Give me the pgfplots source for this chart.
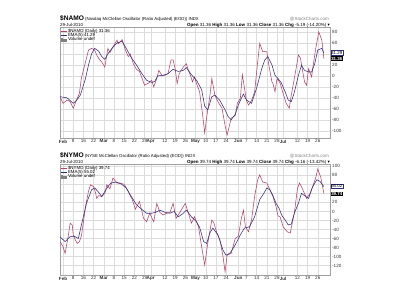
\documentclass[border=0pt]{standalone}
\usepackage{fontspec}
\setmainfont{Liberation Sans}
\newfontfamily\djv{DejaVu Sans}
\usepackage{pgfplots}
\pgfplotsset{compat=1.18}
\definecolor{osc}{HTML}{B8406A}
\definecolor{ema}{HTML}{2E2E78}
\definecolor{gridc}{HTML}{DCDCDC}
\definecolor{framec}{HTML}{A0A0A0}
\newcommand\fs[1]{\fontsize{#1}{#1}\selectfont}
\pgfplotsset{
  chart/.style={
    scale only axis, width=270pt, height=111pt,
    xmin=-1.5, xmax=131,
    axis line style={framec, line width=0.4pt},
    grid=major, major grid style={gridc, line width=0.3pt},
    xtick={0,5,10,15,20,25,30,35,40,43,50,55,60,65,70,75,80,86,90,95,100,105,108,115,120,125},
    xticklabels={\textbf{Feb},8,16,22,\textbf{Mar},8,15,22,29,\textbf{Apr},12,19,26,\textbf{May},10,17,24,\textbf{Jun},7,14,21,28,\textbf{Jul},12,19,26},
    major tick length=0pt,
    yticklabel pos=right,
    tick label style={font=\fs{4.6}, text=black!80},
    xticklabel style={inner sep=1pt},
    yticklabel style={inner sep=2pt},
    clip=true,
    legend cell align=left,
    legend style={at={(rel axis cs:0,1)}, anchor=north west, draw=none, fill=none,
      font=\fs{4.4}, inner sep=0.5pt, row sep=-1.6pt, nodes={inner sep=0.6pt}},
    legend image code/.code={\draw[##1,line width=0.7pt] (0pt,0pt) -- (6pt,0pt);},
  }
}
\begin{document}
\begin{tikzpicture}[x=1pt,y=1pt]
\useasboundingbox (0,0) rectangle (400,300);
% ---------------- top chart ----------------
\begin{axis}[chart, at={(60pt,161.5pt)}, anchor=south west,
  ymin=-114, ymax=88, ytick={-100,-80,...,80},
  yticklabels={-100,-80,-60,-40,-20,0,20,,60,80}]
\addplot[osc, line width=0.55pt] coordinates {
(-1.5,-38) (0,-50) (2,-44) (3.5,-47) (5,-59) (6.5,-45) (8,-32) (9,-4) (11,25) (12.5,47) (14,50) (15.5,47) (16.5,38) (17.5,32) (19,25) (20.5,16) (22,50) (23,42) (24.5,53) (26.5,65) (27,58) (29,66) (30.5,48) (32,35) (33,40) (34.5,22) (36,12) (37.5,8) (40,-17) (42,-13) (43.5,-8) (44.5,-20) (46,-5) (47,10) (48.5,1) (50,1) (51.5,4) (53,29) (54,29) (55,13) (56,-14) (57,4) (59,16) (60.5,22) (61.5,10) (62.5,1) (63.5,-11) (64.5,-2) (65.5,-14) (67,-29) (68.5,-71) (69.5,-104) (70.5,-75) (72,-38) (73,-5) (74.5,-35) (76,-47) (78,-59) (79.5,-90) (80.5,-108) (82,-85) (82.5,-77) (84.5,-72) (85.5,-50) (87,-41) (88,2) (90,-45) (91,-53) (92.5,-45) (94,-29) (95.5,25) (96.5,59) (98,44) (100,44) (101,19) (102.5,-11) (103,-14) (104,-29) (105,-5) (106.5,-13) (108,-32) (109.5,-50) (111,-59) (112,-35) (113.5,-5) (115.5,38) (116.5,32) (118.5,-11) (119.5,-17) (120.5,13) (122,-2) (122.5,13) (124,50) (125.5,80) (127,65) (128,31.36)
};
\addlegendentry{\$NAMO (Daily) 31.36}
\addplot[ema, line width=0.55pt] coordinates {
(-1.5,-38) (2,-40) (3.5,-45) (5,-50) (6.5,-45) (8.5,-35) (11,-5) (12.5,20) (14,40) (15,47) (15.5,50) (17.5,45) (19,35) (20.5,30) (22,40) (24,50) (26.5,60) (29,63) (31,50) (33.5,33) (36,20) (38.5,5) (41,-8) (43.5,-12) (45,-10) (46.5,0) (49,1) (51.5,4) (54,12) (56.5,8) (59,10) (60.5,15) (63,2) (65.5,-8) (68,-25) (69.5,-55) (71,-62) (73,-38) (74.5,-35) (77,-45) (79.5,-62) (81,-74) (82.5,-80) (84.5,-70) (86,-53) (88.5,-33) (90,-44) (92.5,-50) (95,-22) (97.5,13) (99,29) (100.5,35) (102.5,20) (104,1) (105.5,-5) (107,-12) (109,-29) (110.5,-44) (112,-47) (113.5,-30) (115.5,1) (117,19) (118.5,10) (120.5,7) (122,7) (123.5,22) (125,47) (127,50) (128,41.29)
};
\addlegendentry{EMA(5) 41.29}
\addlegendimage{legend image code/.code={\fill[gray] (0.5pt,-1.4pt) rectangle (1.5pt,1.4pt); \fill[gray] (2.2pt,-1.4pt) rectangle (3.2pt,0.6pt); \fill[gray] (3.9pt,-1.4pt) rectangle (4.9pt,1.0pt);}}
\addlegendentry{Volume undef}
\end{axis}
% header top
\node[anchor=base west, inner sep=0pt] at (60,279) {\fs{6.6}\textbf{\$NAMO}\,\fs{4.3}(Nasdaq McClellan Oscillator (Ratio Adjusted) (EOD)) INDX};
\node[anchor=base west, inner sep=0pt] at (60,273.2) {\fs{4.3}29-Jul-2010};
\node[anchor=base east, inner sep=0pt] at (330,273.2) {\fs{4.5}\textbf{Open} 31.36 \textbf{High} 31.36 \textbf{Low} 31.36 \textbf{Close} 31.36 \textbf{Chg} -5.19 (-14.20\%) {\djv ▾}};
\node[anchor=base east, inner sep=0pt, text=gray] at (329,279.5) {\fs{4.5}@StockCharts.com};
\node[anchor=west, draw=ema, fill=white, inner sep=0.6pt, line width=0.3pt] at (330.5,247.4) {\fs{4.4}41.29};
\node[anchor=west, fill=black, text=white, inner sep=0.6pt] at (330.5,241.4) {\fs{4.4}\textbf{31.36}};
% ---------------- bottom chart ----------------
\begin{axis}[chart, at={(60pt,24.5pt)}, anchor=south west,
  ymin=-142, ymax=104, ytick={-120,-100,...,100},
  yticklabels={-120,-100,-80,-60,-40,-20,0,20,,,80,100}]
\addplot[osc, line width=0.55pt] coordinates {
(-1.5,-67) (0,-78) (1,-93) (2.5,-56) (3.5,-26) (4.5,-30) (5,-52) (6,-63) (7,-71) (8,-67) (9,-55) (10,-23) (11,10) (12.5,45) (13.5,59) (15,55) (16,40) (16.5,29) (17.5,35) (19,33) (20.5,40) (21.5,59) (23,50) (24.5,74) (26.5,63) (28,63) (30,60) (31.5,48) (32,44) (34,26) (35.5,5) (37.5,22) (39.5,-15) (41,-23) (42.5,-4) (44.5,-23) (46,18) (47.5,-2) (49,-8) (51,-4) (52.5,-2) (54,18) (55.5,-15) (56.5,-8) (58,3) (60,18) (61.5,-4) (63,-26) (64.5,-12) (66.5,-34) (68,-78) (69.5,-119) (71,-71) (73,-19) (74,-25) (75.5,-48) (77,-63) (78.5,-100) (79.5,-134) (80.5,-97) (82.5,-93) (84.5,-60) (86,-55) (87.5,-15) (88.5,3) (89.5,-34) (91,-45) (92.5,-19) (94,33) (95.5,70) (96.5,81) (98,65) (100,63) (101.5,48) (103,33) (104.5,11) (105.5,-10) (106.5,-12) (108,-34) (110,-45) (111.5,-48) (112.5,-25) (113.5,-4) (115,50) (116,63) (117,55) (119.5,29) (121,38) (122.5,55) (124,75) (125,94) (126.5,75) (128,39.74)
};
\addlegendentry{\$NYMO (Daily) 39.74}
\addplot[ema, line width=0.55pt] coordinates {
(-1.5,-56) (1,-67) (3.5,-56) (5.5,-55) (7.5,-60) (9,-30) (11.5,18) (14,48) (15.5,52) (17,45) (19,33) (20.5,44) (22,55) (23.5,63) (26,65) (28.5,61) (31,52) (33.5,33) (36,15) (38.5,5) (41,-4) (43.5,-4) (45.5,-2) (47.5,3) (50,-2) (52.5,-4) (54.5,0) (56.5,-12) (58.5,-6) (60.5,3) (63,-12) (65.5,-23) (67,-35) (69,-67) (70.5,-71) (72,-48) (73.5,-37) (76,-52) (78.5,-86) (80,-97) (82,-92) (84.5,-74) (87,-52) (89,-37) (91.5,-34) (94,-12) (96.5,26) (98.5,40) (100,52) (101.5,48) (103,35) (104.5,18) (106,7) (107.5,-10) (109,-19) (110.5,-30) (112,-28) (113.5,-4) (115.5,18) (117,40) (118.5,35) (120.5,29) (122.5,55) (124.5,70) (126,67) (128,55.02)
};
\addlegendentry{EMA(5) 55.02}
\addlegendimage{legend image code/.code={\fill[gray] (0.5pt,-1.4pt) rectangle (1.5pt,1.4pt); \fill[gray] (2.2pt,-1.4pt) rectangle (3.2pt,0.6pt); \fill[gray] (3.9pt,-1.4pt) rectangle (4.9pt,1.0pt);}}
\addlegendentry{Volume undef}
\end{axis}
% header bottom
\node[anchor=base west, inner sep=0pt] at (60,142) {\fs{6.6}\textbf{\$NYMO}\,\fs{4.3}(NYSE McClellan Oscillator (Ratio Adjusted) (EOD)) INDX};
\node[anchor=base west, inner sep=0pt] at (60,136.2) {\fs{4.3}29-Jul-2010};
\node[anchor=base east, inner sep=0pt] at (330,136.2) {\fs{4.5}\textbf{Open} 39.74 \textbf{High} 39.74 \textbf{Low} 39.74 \textbf{Close} 39.74 \textbf{Chg} -6.16 (-13.42\%) {\djv ▾}};
\node[anchor=base east, inner sep=0pt, text=gray] at (329,142.5) {\fs{4.5}@StockCharts.com};
\node[anchor=west, draw=ema, fill=white, inner sep=0.6pt, line width=0.3pt] at (330.5,113.6) {\fs{4.4}55.02};
\node[anchor=west, fill=black, text=white, inner sep=0.6pt] at (330.5,106.2) {\fs{4.4}\textbf{39.74}};
\end{tikzpicture}
\end{document}
